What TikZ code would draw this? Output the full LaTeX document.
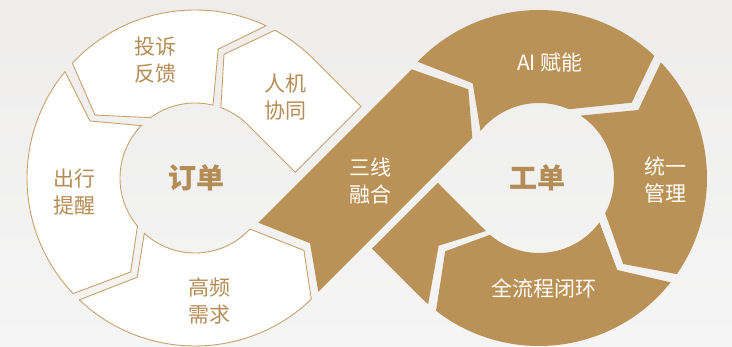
\documentclass[tikz,border=0pt]{standalone}
\usepackage{fontspec}
\setmainfont{Noto Sans CJK SC}
\definecolor{gold}{HTML}{BA9156}
\definecolor{goldline}{HTML}{C8A06A}
\definecolor{goldtext}{HTML}{B48C55}
\definecolor{bgtop}{HTML}{EEEDEC}
\definecolor{bgbot}{HTML}{F5F5F5}
\begin{document}
\begin{tikzpicture}[x=1pt,y=1pt,
  wseg/.style={fill=white, draw=goldline, line width=0.9pt, line join=miter},
  bseg/.style={fill=gold},
  wtxt/.style={text=goldtext, font=\fontsize{21}{27}\selectfont, align=center, inner sep=0pt},
  btxt/.style={text=white, font=\fontsize{21}{27}\selectfont, align=center, inner sep=0pt},
  ctxt/.style={text=goldtext, font=\bfseries\fontsize{28}{32}\selectfont, inner sep=0pt}]
\shade[top color=bgtop, bottom color=bgbot] (0,0) rectangle (732,346);
\useasboundingbox (0,0) rectangle (732,346);

% ---------- left ring (white, arrows counter-clockwise) ----------
\begin{scope}[shift={(195,168)}]
  % 投诉反馈
  \path[wseg] (136.9:168) -- (147.8:118.2) -- (126.4:75)
    arc[start angle=126.4, end angle=76.1, radius=75]
    -- (79.8:131) -- (65:168)
    arc[start angle=65, end angle=136.9, radius=168] -- cycle;
  % 人机协同
  \path[wseg] (61.6:168) -- (76.8:127) -- (69.8:75)
    arc[start angle=69.8, end angle=45, radius=75]
    -- (100.25,5.75) -- (166.05,71.55) -- (45:168)
    arc[start angle=45, end angle=61.6, radius=168] -- cycle;
  % 出行提醒
  \path[wseg] (140.7:168) -- (151.5:119.5) -- (135.7:75)
    arc[start angle=135.7, end angle=219.9, radius=75]
    -- (235.6:113.9) -- (223.5:168)
    arc[start angle=223.5, end angle=140.7, radius=168] -- cycle;
  % 高频需求
  \path[wseg] (226.5:168) -- (239.8:114.8) -- (227.5:75)
    arc[start angle=227.5, end angle=317.1, radius=75]
    -- (326.4:130.8) -- (313.8:168)
    arc[start angle=313.8, end angle=226.5, radius=168] -- cycle;
\end{scope}

% ---------- crossing band 三线融合 ----------
\path[bseg] (258.3,123.3) -- (310,102.8) -- (318.3,54.3)
  -- (472.3,208.3) -- (468.3,256.7) -- (411.7,276.7) -- cycle;

% ---------- right ring (gold, arrows clockwise) ----------
\begin{scope}[shift={(539,168)}]
  % AI 赋能
  \path[bseg] (136.2:168) -- (125:115.6) -- (141.2:75)
    arc[start angle=141.2, end angle=66.5, radius=75]
    -- (39.1:119.4) -- (46.7:168)
    arc[start angle=46.7, end angle=136.2, radius=168] -- cycle;
  % 统一管理
  \path[bseg] (43.5:168) -- (34.4:120.4) -- (56.3:75)
    arc[start angle=56.3, end angle=-28, radius=75]
    -- (-45.6:120.4) -- (-34.9:168)
    arc[start angle=-34.9, end angle=43.5, radius=168] -- cycle;
  % 全流程闭环
  \path[bseg] (-38.4:168) -- (-49.6:120.8) -- (-36.3:75)
    arc[start angle=-36.3, end angle=-130.8, radius=75]
    -- (-142:119) -- (-127.8:168)
    arc[start angle=-127.8, end angle=-38.4, radius=168] -- cycle;
  % lower-left connecting piece
  \path[bseg] (225:75) -- (214:121) -- (228.7:168)
    arc[start angle=228.7, end angle=225, radius=168]
    -- (-167.05,-70.55) -- (-101.25,-4.75) -- cycle;
\end{scope}

% ---------- texts ----------
\node[wtxt] (tousu) at (155,285.5) {投诉\\反馈};
\node[wtxt] (renji) at (285,249) {人机\\协同};
\node[wtxt] (chuxing) at (74,154) {出行\\提醒};
\node[wtxt] (gaopin) at (209,44.5) {高频\\需求};
\node[ctxt] (dingdan) at (196,168) {订单};
\node[btxt] (sanxian) at (370,165) {三线\\融合};
\node[btxt] (ai) at (550,284) {AI 赋能};
\node[btxt] (tongyi) at (665,166) {统一\\管理};
\node[btxt] (quanliu) at (543.5,58) {全流程闭环};
\node[ctxt] (gongdan) at (537,168) {工单};
\end{tikzpicture}
\end{document}
